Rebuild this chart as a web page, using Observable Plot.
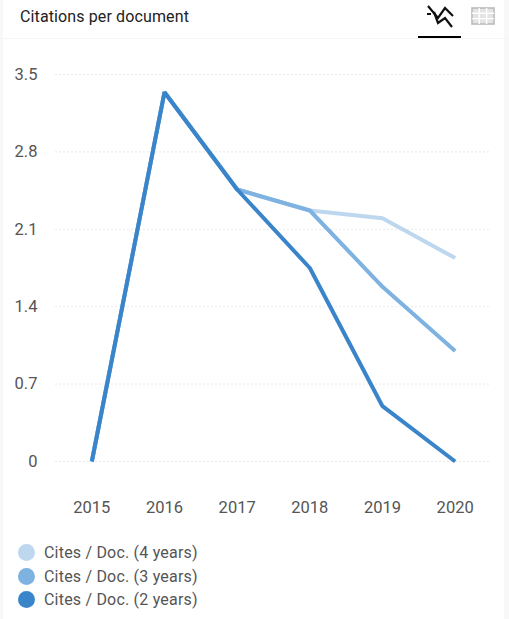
<!DOCTYPE html>
<html>
<head>
<meta charset="utf-8">
<script src="https://cdn.jsdelivr.net/npm/d3@7"></script>
<script src="https://cdn.jsdelivr.net/npm/@observablehq/plot@0.6"></script>
<style>
  html, body { margin: 0; padding: 0; background: #fff; }
  body { width: 509px; height: 619px; position: relative; overflow: hidden; font-family: Roboto, sans-serif; }
  .edge { position: absolute; top: 0; bottom: 0; width: 3px; background: #f8f8f8; }
  #header { position: absolute; left: 0; right: 0; top: 0; height: 38px; border-bottom: 1px solid #f5f5f5; }
  #title { position: absolute; left: 20px; top: 8px; font-size: 16px; line-height: 18px; color: #222; letter-spacing: 0.12px; }
  #tab { position: absolute; left: 418px; top: 36px; width: 43px; height: 2px; background: #000; }
  #chart { position: absolute; left: 0; top: 39px; }
  #legend { position: absolute; left: 18px; top: 541px; font-size: 16px; letter-spacing: 0.2px; color: #555; }
  .item { display: flex; align-items: center; height: 23.5px; }
  .dot { width: 17px; height: 17px; border-radius: 50%; margin-right: 9px; }
  svg.icon { position: absolute; }
</style>
</head>
<body>
<div class="edge" style="left:0"></div>
<div class="edge" style="right:0;width:5px"></div>
<div id="header">
  <div id="title">Citations per document</div>
  <svg class="icon" style="left:424px;top:3px" width="32" height="26" viewBox="0 0 32 26" fill="none" stroke="#111" stroke-width="2.2">
    <path d="M4 3 L14 15 L21 5 L29 13"/>
    <path d="M3 11 L7 11 M10 9 L14 20 L21 15 L28 24"/>
  </svg>
  <svg class="icon" style="left:471px;top:7px" width="24" height="18" viewBox="0 0 24 18" fill="none" stroke="#bbb" stroke-width="1.6">
    <rect x="1" y="1" width="22" height="16" fill="#e4e4e4"/>
    <path d="M1 6.3H23M1 11.6H23M8.3 1V17M15.6 1V17" stroke="#fff" stroke-width="1.4"/>
  </svg>
  <div id="tab"></div>
</div>
<div id="chart"></div>
<div id="legend"></div>
<script>
// Citations per document, by citation window
const years = [2015, 2016, 2017, 2018, 2019, 2020];
const cites4 = [0, 3.34, 2.46, 2.27, 2.2, 1.84];
const cites3 = [0, 3.34, 2.46, 2.27, 1.58, 1.0];
const cites2 = [0, 3.34, 2.46, 1.75, 0.5, 0];
const yTicks = [0, 0.7, 1.4, 2.1, 2.8, 3.5];
const seriesNames = ["Cites / Doc. (4 years)", "Cites / Doc. (3 years)", "Cites / Doc. (2 years)"];
const seriesColors = ["#bdd7ee", "#7eb2e0", "#3a84c9"];
const seriesValues = [cites4, cites3, cites2];

const rows = seriesNames.flatMap((name, i) =>
  years.map((year, j) => ({ name, year, value: seriesValues[i][j] }))
);

const plot = Plot.plot({
  width: 509,
  height: 502,
  marginLeft: 55,
  marginRight: 18,
  marginTop: 35,
  marginBottom: 80,
  style: { fontFamily: "Roboto, sans-serif", fontSize: "16px", background: "transparent" },
  x: { type: "point", domain: years, padding: 0.5, round: false },
  y: { domain: [0, 3.5] },
  color: { domain: seriesNames, range: seriesColors },
  marks: [
    Plot.gridY(yTicks, { stroke: "#e9e9e9", strokeOpacity: 1, strokeDasharray: "2 2" }),
    Plot.axisX(years, { tickSize: 0, tickPadding: 40, tickFormat: d => String(d), color: "#555", label: null, fontSize: 16.5 }),
    Plot.axisY(yTicks, { tickSize: 0, tickPadding: 18, tickFormat: d => String(d), color: "#555", label: null, fontSize: 16.5 }),
    Plot.line(rows, { x: "year", y: "value", z: "name", stroke: "name", strokeWidth: 4, strokeLinejoin: "miter", strokeLinecap: "butt" })
  ]
});
document.getElementById("chart").append(plot);

// Legend listed in drawing order
const legend = document.getElementById("legend");
seriesNames.forEach((name, i) => {
  const item = document.createElement("div");
  item.className = "item";
  const dot = document.createElement("span");
  dot.className = "dot";
  dot.style.background = seriesColors[i];
  const text = document.createElement("span");
  text.textContent = name;
  item.append(dot, text);
  legend.append(item);
});
</script>
</body>
</html>
